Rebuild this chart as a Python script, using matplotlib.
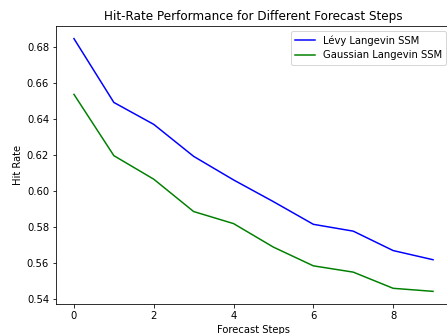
import matplotlib
matplotlib.use("Agg")
import matplotlib.pyplot as plt

steps = list(range(10))
levy = [0.6847, 0.6492, 0.6370, 0.6192, 0.6061, 0.5940, 0.5814, 0.5776, 0.5668, 0.5617]
gauss = [0.6537, 0.6196, 0.6065, 0.5885, 0.5818, 0.5687, 0.5583, 0.5548, 0.5458, 0.5441]

W, H, DPI = 447, 334, 72
fig = plt.figure(figsize=(W / DPI, H / DPI), dpi=DPI)
ax = fig.add_axes([56 / W, (H - 304) / H, 395 / W, 278 / H])
ax.plot(steps, levy, color="blue", label="Lévy Langevin SSM")
ax.plot(steps, gauss, color="green", label="Gaussian Langevin SSM")
ax.set_title("Hit-Rate Performance for Different Forecast Steps")
ax.set_xlabel("Forecast Steps")
ax.set_ylabel("Hit Rate")
ax.legend(loc="upper right")
fig.savefig("out.png", dpi=DPI)
